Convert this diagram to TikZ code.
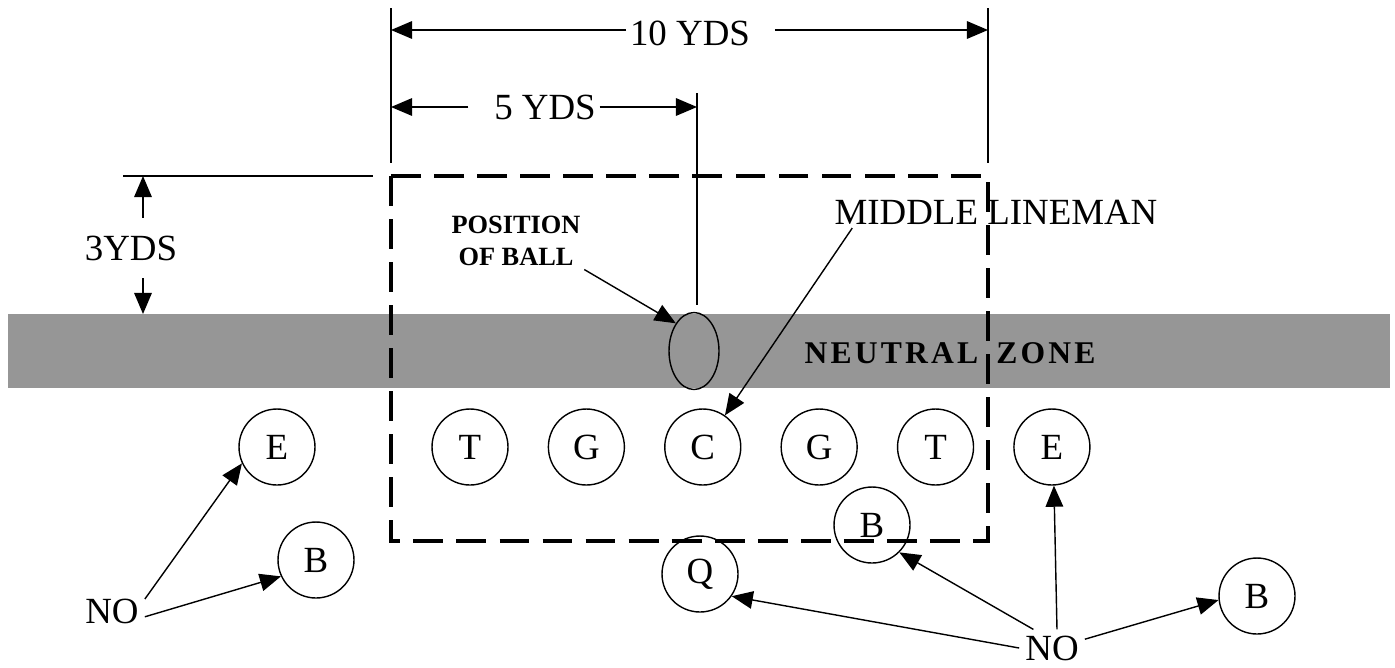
\documentclass[tikz,border=0pt]{standalone}
\usepackage{fontspec}
\setmainfont{Liberation Serif}
\usepackage{tikz}
\usetikzlibrary{arrows.meta,positioning,shapes.geometric}
\definecolor{ZoneGray}{HTML}{969696}

\begin{document}
\begin{tikzpicture}[x=0.02cm,y=-0.02cm,node distance=0.78cm,
    lbl/.style={font=\fontsize{21}{25}\selectfont,inner sep=2pt},
    player/.style={circle,draw,line width=0.8pt,minimum size=1.52cm,
                   inner sep=0pt,font=\fontsize{21}{25}\selectfont},
    ball/.style={ellipse,draw,line width=0.8pt,minimum width=1.0cm,
                 minimum height=1.54cm,inner sep=0pt},
    dimarrow/.style={-{Triangle[length=12pt,width=10pt]},line width=0.8pt},
    pointer/.style={-{Triangle[length=12pt,width=10pt]},line width=0.8pt},
    guide/.style={line width=0.8pt},
    fieldbox/.style={line width=2.3pt,dash pattern=on 17pt off 7.5pt}]

    \useasboundingbox (0,0) rectangle (1395,667);

    % neutral zone
    \fill[ZoneGray] (8,314) rectangle (1390,388);
    \node[font=\bfseries\fontsize{18}{21}\selectfont\addfontfeatures{LetterSpace=10}]
      (nz) at (950,353) {NEUTRAL\hspace{4pt} ZONE};

    % box round the line
    \draw[fieldbox] (391,176) rectangle (988,541);

    % guide lines
    \draw[guide] (391,8) -- (391,163);
    \draw[guide] (988,8) -- (988,163);
    \draw[guide] (697,93) -- (697,305);
    \draw[guide] (123,176) -- (373,176);

    % 10 yds
    \coordinate (tenL) at (391,30);
    \coordinate (tenR) at (988,30);
    \node[lbl] (ten) at (690,33) {10 YDS};
    \draw[dimarrow] (ten.west |- tenL) -- (tenL);
    \draw[dimarrow] ([xshift=0.42cm]ten.east |- tenR) -- (tenR);

    % 5 yds
    \coordinate (fiveL) at (391,107);
    \coordinate (fiveR) at (697,107);
    \node[lbl] (five) at (545,107) {5 YDS};
    \draw[dimarrow] ([xshift=-0.44cm]five.west |- fiveL) -- (fiveL);
    \draw[dimarrow] (five.east |- fiveR) -- (fiveR);

    % 3 yds
    \coordinate (threeT) at (143,176);
    \coordinate (threeB) at (143,314);
    \node[lbl,inner ysep=10pt] (three) at (131,248) {3YDS};
    \draw[dimarrow] (three.north -| threeT) -- (threeT);
    \draw[dimarrow] (three.south -| threeB) -- (threeB);

    % ball
    \node[ball] (ball) at (694,351) {};
    \node[font=\bfseries\fontsize{15}{18}\selectfont,align=center,inner sep=2pt]
      (posball) at (516,241) {POSITION\\OF BALL};
    \draw[pointer] (posball.south east) -- (ball.north west);

    % players
    \node[player] (lE) at (277,447) {E};
    \node[player] (lT) at (470,447) {T};
    \foreach \prev/\cur/\pos in {lT/lG/G,lG/C/C,C/rG/G,rG/rT/T,rT/rE/E}{
      \node[player,right=of \prev] (\cur) {\pos};
    }
    \node[player] (lB) at (316,560) {B};
    \node[player] (Q) at (700,574) {Q};
    \node[player] (mB) at (872,525) {B};
    \node[player] (rB) at (1257,596) {B};

    % middle lineman
    \node[lbl] (ml) at (996,212) {MIDDLE LINEMAN};
    \draw[pointer] ([xshift=0.43cm]ml.south west) -- (C.55);

    % no
    \node[lbl,inner sep=0.3333em] (noL) at (112,611) {NO};
    \node[lbl,inner sep=0.3333em] (noR) at (1052,648) {NO};
    \draw[pointer] (noL.20) -- (lE.205);
    \draw[pointer] (noL.-10) -- (lB.205);
    \draw[pointer] (noR.west) -- (Q.-35);
    \draw[pointer] (noR.135) -- (mB.-45);
    \draw[pointer] (noR.75) -- (rE.-87);
    \draw[pointer] (noR.15) -- (rB.186);
\end{tikzpicture}
\end{document}
